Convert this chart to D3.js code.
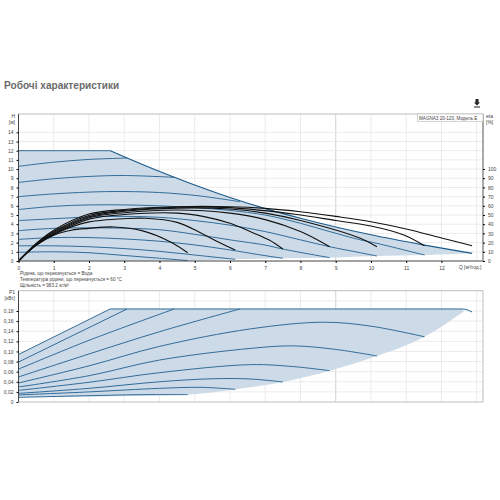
<!DOCTYPE html>
<html>
<head>
<meta charset="utf-8">
<script src="https://cdn.jsdelivr.net/npm/d3@7"></script>
<style>
body { margin: 0; background: #fff; }
text { font-family: "Liberation Sans", sans-serif; fill: #444; }
</style>
</head>
<body>
<svg width="500" height="500"></svg>
<script>
//labels
var titleText = "Робочі характеристики";
var modelText = "MAGNA3 20-120, Модель E";
var noteLines = ["Рідина, що перекачується = Вода",
                 "Температура рідини, що перекачується = 60 °C",
                 "Щільність = 983.2 кг/м³"];

//ticks
var qTicks = [0,1,2,3,4,5,6,7,8,9,10,11,12];
var qGrid = [1,2,3,4,5,6,7,8,9,10,11,12,13];
var hTicks = [0,1,2,3,4,5,6,7,8,9,10,11,12,13,14];
var etaTicks = [0,10,20,30,40,50,60,70,80,90,100];
var pTicks = [0,0.02,0.04,0.06,0.08,0.10,0.12,0.14,0.16,0.18];

//head curves [Q, H]
var head1 = [[0,12],[2.6,12]];
var head2 = [[0,10.3],[1,10.75],[2,11.05],[3.08,11.2]];
var head3 = [[0,8.55],[1,8.95],[2,9.2],[3,9.3],[4.42,9.1]];
var head4 = [[0,7],[1,7.3],[2.5,7.55],[4,7.45],[5.2,7.05],[6.28,6.45]];
var head5 = [[0,5.6],[1,5.95],[2,6.1],[3,6.1],[4,6],[5,5.8],[6,5.5],[7,5],[8,4.1],[8.83,3.2],[9.7,2.3],[10.17,1.92],[11.52,0.65]];
var head6 = [[0,4.4],[1,4.6],[2.5,4.85],[4,4.75],[5,4.4],[6,3.9],[7,3.2],[8,2.3],[8.83,1.55],[9.7,0.9],[10.17,0.54]];
var head7 = [[0,3.3],[1,3.55],[2.5,3.6],[4,3.4],[5,2.9],[6,2.3],[7,1.73],[7.5,1.3],[8.83,0.36]];
var head8 = [[0,2.35],[1,2.55],[2,2.55],[3,2.4],[4,2.15],[5,1.75],[6,1.2],[7,0.58],[7.5,0.3]];
var head9 = [[0,1.65],[1,1.65],[2,1.55],[3,1.35],[4,1.05],[5,0.65],[6.15,0.18]];
var head10 = [[0,0.95],[1,1],[2,0.9],[3,0.6],[4,0.3],[4.8,0.05]];
var headEnvelope = [[2.6,12],[3.08,11.2],[4.42,9.1],[6,6.9],[7,5.7],[8,4.65],[9,3.7],[10,2.85],[11.52,1.73],[12.87,0.83]];
var headFloor = [[12.87,0.83],[11.52,0.65],[10.17,0.54],[8.83,0.36],[7.5,0.3],[6.15,0.18],[4.8,0.05],[0,0]];

//efficiency curves [Q, eta %]
var eta1 = [[0,0],[0.5,17],[1,28],[1.5,33.5],[2,35.5],[2.7,37],[3.5,33],[4.3,21],[4.8,9]];
var eta2 = [[0,0],[0.5,17],[1,28.5],[1.5,37],[2,42.5],[3,46],[3.6,46.5],[4.5,42],[5.2,30],[5.7,20],[6.15,12]];
var eta3 = [[0,0],[0.5,17.5],[1,29],[2,45.5],[3,50.5],[4.5,52],[5.3,48],[6,41],[6.57,32],[7.1,23],[7.5,13]];
var eta4 = [[0,0],[0.5,17.5],[1,30],[2,47],[3,52.5],[4.5,55.5],[6,52],[7,45],[8,32],[8.83,15.5]];
var eta5 = [[0,0],[0.5,18],[1,31],[2,48],[3,54],[4.5,57.5],[6,56.5],[7,52],[8,44],[9.7,24.7],[10.17,15.5]];
var eta6 = [[0,0],[0.5,18.5],[1,32],[2,49.5],[3,55],[4.5,58.5],[6,58],[7.9,50.5],[9,44],[10,38],[10.93,28.3],[11.52,16.6]];
var eta7 = [[0,0],[0.5,19],[1,33.5],[2,51],[3,56],[4.5,59],[6,59],[7,57.2],[8,53.6],[9,48.5],[10,42.7],[11,34.8],[12,25],[12.87,16.6]];

//power curves [Q, P1]
var power1 = [[0,0.094],[2.6,0.184]];
var power2 = [[0,0.079],[3.08,0.184]];
var power3 = [[0,0.065],[2,0.122],[4.42,0.184]];
var power4 = [[0,0.0495],[2,0.095],[4,0.139],[6.28,0.184]];
var power5 = [[0,0.0376],[2,0.0715],[4,0.11],[6.58,0.1446],[8.65,0.1578],[10,0.15],[11.52,0.129]];
var power6 = [[0,0.0297],[2,0.052],[4,0.083],[6.58,0.106],[7.8,0.111],[9,0.104],[10.17,0.091]];
var power7 = [[0,0.023],[2,0.039],[4,0.058],[6.58,0.0739],[7.8,0.07],[8.83,0.062]];
var power8 = [[0,0.017],[2,0.027],[4,0.04],[5.5,0.046],[6.58,0.0455],[7.5,0.0396]];
var power9 = [[0,0.014],[2,0.02],[4,0.027],[5.2,0.029],[6.15,0.025]];
var power10 = [[0,0.0092],[2,0.0125],[3.5,0.0145],[4.8,0.0145]];
var powerTop = [[2.6,0.184],[12.6,0.184],[12.87,0.178]];
var powerFloor = [[12.63,0.179],[11.52,0.129],[10.17,0.091],[8.83,0.062],[7.5,0.0396],[6.15,0.025],[4.8,0.0145],[0,0.0092]];

var headCurves = [head1,head2,head3,head4,head5,head6,head7,head8,head9,head10];
var etaCurves = [eta1,eta2,eta3,eta4,eta5,eta6,eta7];
var powerCurves = [power1,power2,power3,power4,power5,power6,power7,power8,power9,power10];

var svg = d3.select("svg");

var xScale = d3.scaleLinear().domain([0,13]).range([18.5,476.7]);
var hScale = d3.scaleLinear().domain([0,12]).range([261,150.7]);
var etaScale = d3.scaleLinear().domain([0,100]).range([261,169]);
var pScale = d3.scaleLinear().domain([0,0.18]).range([402,311]);

var makeLine = function(yScale)
{
    return d3.line()
        .x(function(d){ return xScale(d[0]) })
        .y(function(d){ return yScale(d[1]) })
        .curve(d3.curveCatmullRom);
};

//envelopes have corners, keep them from overshooting
var makeEdge = function(yScale)
{
    return makeLine(yScale).curve(d3.curveMonotoneX);
};

//grid and frame for one panel
var makeFrame = function(top, bottom, yScale, yGrid)
{
    var right = 483;
    var g = svg.append("g");
    g.selectAll(".v").data(qGrid).enter().append("line")
        .attr("x1", function(d){ return xScale(d) })
        .attr("x2", function(d){ return xScale(d) })
        .attr("y1", top).attr("y2", bottom)
        .attr("stroke", function(d){ return d == 9 ? "#c8c8c8" : "#e6e6e6" })
        .attr("stroke-width", 0.8);
    g.selectAll(".h").data(yGrid).enter().append("line")
        .attr("x1", xScale(0)).attr("x2", right)
        .attr("y1", function(d){ return yScale(d) })
        .attr("y2", function(d){ return yScale(d) })
        .attr("stroke", "#e6e6e6")
        .attr("stroke-width", 0.8);
    g.append("path")
        .attr("d", "M" + xScale(0) + "," + top + "H" + right + "V" + bottom)
        .attr("fill", "none")
        .attr("stroke", "#bdbdbd");
};

var drawCurves = function(curves, line, color, width)
{
    svg.append("g").selectAll("path").data(curves).enter().append("path")
        .attr("d", line)
        .attr("fill", "none")
        .attr("stroke", color)
        .attr("stroke-width", width);
};

var leftAxis = function(yScale, ticks, format)
{
    var axis = d3.axisLeft(yScale).tickValues(ticks).tickSize(2).tickFormat(format);
    var g = svg.append("g").attr("transform", "translate(" + xScale(0) + ",0)").call(axis);
    g.selectAll("text").attr("font-size", 5);
    return g;
};

//top panel
makeFrame(114, 261, hScale, hTicks.slice(1));

var headEdge = makeEdge(hScale);
svg.append("path")
    .attr("d", "M" + xScale(0) + "," + hScale(0)
        + "L" + xScale(0) + "," + hScale(12)
        + headEdge(headEnvelope).replace("M", "L")
        + headEdge(headFloor).replace("M", "L") + "Z")
    .attr("fill", "#cddbe8");

drawCurves(headCurves, makeLine(hScale), "#1f5f8f", 0.9);
drawCurves([headEnvelope], headEdge, "#1b5a8a", 1.1);
drawCurves(etaCurves, makeLine(etaScale), "#111", 1.1);

var hAxis = leftAxis(hScale, hTicks, function(d){ return d });
hAxis.select(".domain").attr("d", "M0,114V261").attr("stroke", "#444");

var qAxis = d3.axisBottom(xScale).tickValues(qTicks).tickSize(2).tickFormat(function(d){ return d });
var qG = svg.append("g").attr("transform", "translate(0,261)").call(qAxis);
qG.selectAll("text").attr("font-size", 5);
qG.select(".domain").attr("d", "M" + xScale(0) + ",0H483").attr("stroke", "#444");

var etaAxis = d3.axisRight(etaScale).tickValues(etaTicks).tickSize(2).tickFormat(function(d){ return d });
var etaG = svg.append("g").attr("transform", "translate(483,0)").call(etaAxis);
etaG.selectAll("text").attr("font-size", 5);
etaG.select(".domain").attr("d", "M0,114V261").attr("stroke", "#777");

svg.append("text").attr("x", 459).attr("y", 268.5).attr("font-size", 4.8).text("Q [м³/год.]");
svg.append("text").attr("x", 15).attr("y", 118).attr("font-size", 5).attr("text-anchor", "end").text("H");
svg.append("text").attr("x", 15).attr("y", 124).attr("font-size", 5).attr("text-anchor", "end").text("[м]");
svg.append("text").attr("x", 486).attr("y", 118).attr("font-size", 5).text("eta");
svg.append("text").attr("x", 486).attr("y", 124).attr("font-size", 5).text("[%]");

svg.append("rect").attr("x", 417.5).attr("y", 114).attr("width", 65.5).attr("height", 7.3)
    .attr("fill", "#fff").attr("stroke", "#bdbdbd").attr("stroke-width", 0.7);
svg.append("text").attr("x", 419).attr("y", 119.6).attr("font-size", 4.6).text(modelText);

//notes under the top panel
svg.selectAll(".note").data(noteLines).enter().append("text")
    .attr("class", "note")
    .attr("x", 20)
    .attr("y", function(d, i){ return 275 + i * 6.2 })
    .attr("font-size", 4.65)
    .text(function(d){ return d });

//bottom panel
makeFrame(290.7, 402, pScale, pTicks.slice(1).concat([0.2]));

var powerEdge = makeEdge(pScale);
svg.append("path")
    .attr("d", "M" + xScale(0) + "," + pScale(0.094)
        + "L" + xScale(2.6) + "," + pScale(0.184)
        + "L" + xScale(12.6) + "," + pScale(0.184)
        + powerEdge(powerFloor).replace("M", "L") + "Z")
    .attr("fill", "#cddbe8");

drawCurves(powerCurves, makeLine(pScale), "#1f5f8f", 0.9);
drawCurves([powerTop], powerEdge, "#2b6a96", 1);

var pAxis = leftAxis(pScale, pTicks, function(d){ return d == 0 ? "0" : d3.format(".2f")(d).replace(".", ",") });
pAxis.select(".domain").attr("d", "M0,290.7V402").attr("stroke", "#444");
svg.append("line").attr("x1", xScale(0)).attr("x2", 483).attr("y1", 402).attr("y2", 402).attr("stroke", "#bdbdbd");
svg.append("text").attr("x", 15).attr("y", 294).attr("font-size", 5).attr("text-anchor", "end").text("P1");
svg.append("text").attr("x", 15).attr("y", 300).attr("font-size", 5).attr("text-anchor", "end").text("[кВт]");

//title
svg.append("text").attr("x", 4).attr("y", 89).attr("font-size", 10.1).attr("font-weight", "bold")
    .style("fill", "#6b6b6b").text(titleText);

//download icon
svg.append("path")
    .attr("d", "M475.5,99H478.5V102.5H480L477,105.5L474,102.5H475.5ZM474,106.5H480V107.5H474Z")
    .attr("fill", "#222");
</script>
</body>
</html>
